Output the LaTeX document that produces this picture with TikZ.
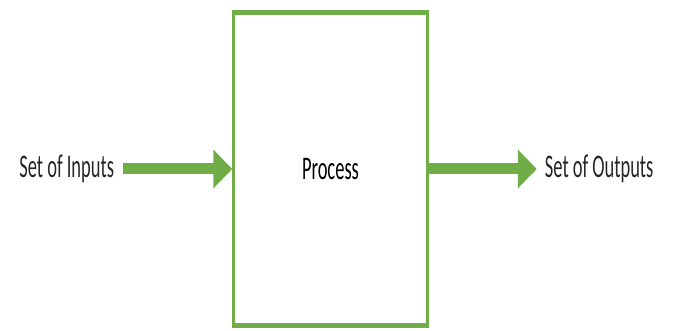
\documentclass[tikz,border=0pt]{standalone}
\usepackage{fontspec}
\setmainfont{Carlito}
\definecolor{flowgreen}{RGB}{112, 173, 71}
\usetikzlibrary{positioning, arrows.meta}
\newcommand{\narrowtext}[1]{\scalebox{.56}[1]{\fontsize{33}{38}\selectfont #1}}
\tikzset{
    processbox/.style={draw=flowgreen, line width=2.5pt, minimum width=194pt,
        minimum height=311pt, inner sep=0pt},
    flowlabel/.style={inner ysep=0pt, inner xsep=9pt, text=black!85},
    flowarrow/.style={flowgreen, line width=11pt,
        -{Triangle[width=38pt, length=19pt]}},
}

\begin{document}
\begin{tikzpicture}[x=1pt, y=1pt]
        \useasboundingbox (0, 0) rectangle (673, 331);
        \node[processbox] (process) at (330.5, 162) {\narrowtext{Process}};
        \draw[flowgreen, line width=4.5pt] (process.north west) -- (process.north east);
        \draw[flowgreen, line width=4.5pt] (process.south west) -- (process.south east);
        \node[flowlabel, left=109pt of process] (inputs) {\narrowtext{Set of Inputs}};
        \node[flowlabel, right=108pt of process, inner xsep=8pt] (outputs)
            {\narrowtext{Set of Outputs}};
        \draw[flowarrow] (inputs.east) -- (process.west);
        \draw[flowarrow] (process.east) -- (outputs.west);
    \end{tikzpicture}
\end{document}
